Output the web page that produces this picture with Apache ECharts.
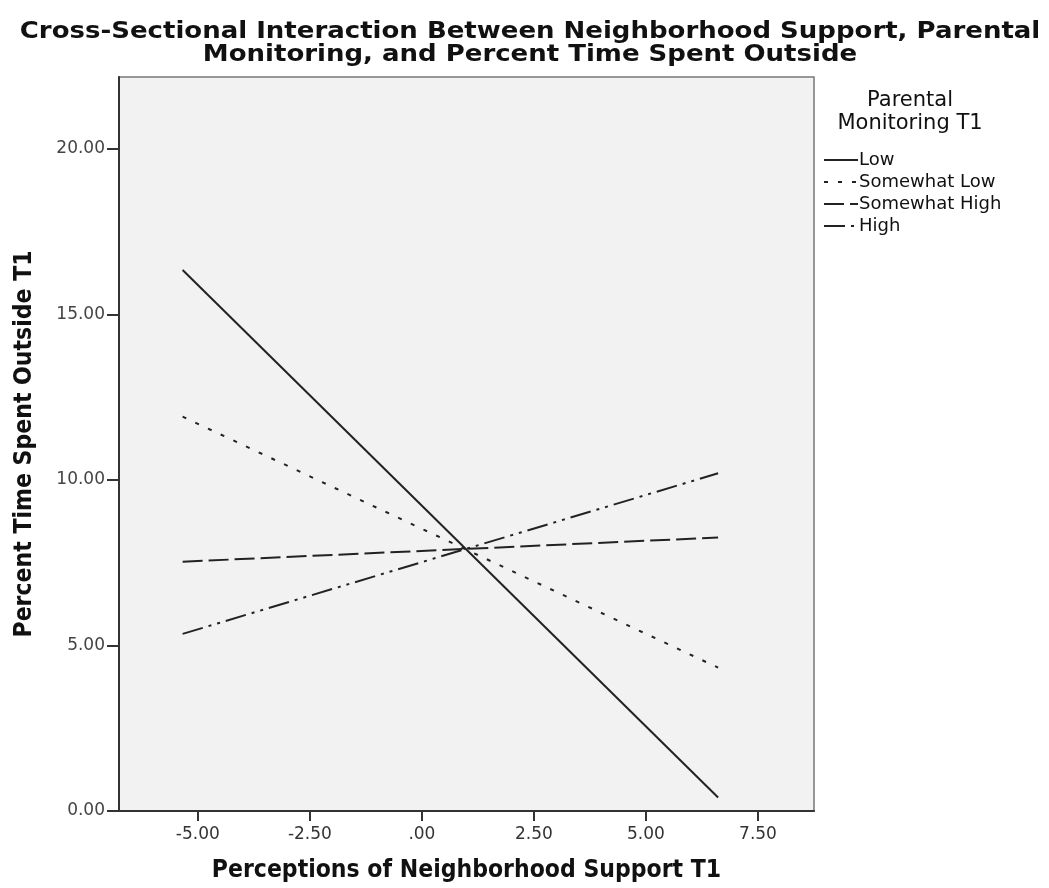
<!DOCTYPE html>
<html><head><meta charset="utf-8">
<script src="https://cdn.jsdelivr.net/npm/echarts@6/dist/echarts.min.js"></script>
<style>html,body{margin:0;padding:0;background:#fff}#c{width:1049px;height:888px}</style>
</head><body><div id="c"></div>
<script>
const xValues = [-5.34, 6.61];
const seriesNames = ['Low', 'Somewhat Low', 'Somewhat High', 'High'];
const lowValues = [16.34, 0.41];
const somewhatLowValues = [11.91, 4.33];
const somewhatHighValues = [7.53, 8.26];
const highValues = [5.35, 10.20];
const xTicks = [-5, -2.5, 0, 2.5, 5, 7.5];
const yTicks = [0, 5, 10, 15, 20];

const dashTypes = ['solid', [4, 10], [20, 6], [21, 6, 3, 6, 3, 6]];
const allValues = [lowValues, somewhatLowValues, somewhatHighValues, highValues];

const chart = echarts.init(document.getElementById('c'));
const fmtX = v => (Math.abs(v) < 1e-9 ? '.00' : v.toFixed(2));
const fmtY = v => v.toFixed(2);
chart.setOption({
  animation: false,
  backgroundColor: '#ffffff',
  legend: {
    orient: 'vertical', left: 818, top: 146,
    itemWidth: 34, itemHeight: 14, itemGap: 4,
    itemStyle: { opacity: 0 },
    textStyle: { fontFamily: 'DejaVu Sans', fontSize: 18, color: '#111', padding: [0, 0, 0, -4] },
    data: seriesNames
  },
  graphic: [{
    type: 'text', x: 530, y: 21, scaleX: 1.13,
    style: { text: 'Cross-Sectional Interaction Between Neighborhood Support, Parental\nMonitoring, and Percent Time Spent Outside', textAlign: 'center', fontFamily: 'DejaVu Sans', fontWeight: 'bold', fontSize: 23, lineHeight: 23, fill: '#111' }
  }, {
    type: 'text', x: 910, y: 89,
    style: { text: 'Parental\nMonitoring T1', textAlign: 'center', fontFamily: 'DejaVu Sans', fontSize: 21, lineHeight: 23, fill: '#111' }
  }],
  grid: { left: 119, right: 235, top: 77, bottom: 77, show: true, backgroundColor: '#f2f2f2', borderColor: '#777', borderWidth: 1.5 },
  xAxis: {
    type: 'value', min: -6.76, max: 8.75,
    name: 'Perceptions of Neighborhood Support T1', nameLocation: 'middle', nameGap: 47,
    nameTextStyle: { fontFamily: 'DejaVu Sans Condensed', fontWeight: 'bold', fontSize: 24.5, color: '#111' },
    axisLine: { show: true, onZero: false, lineStyle: { color: '#333', width: 2 } },
    axisTick: { show: true, length: 10, customValues: xTicks, lineStyle: { color: '#333', width: 2 } },
    axisLabel: { customValues: xTicks, formatter: fmtX, margin: 15, fontFamily: 'DejaVu Sans', fontSize: 17, color: '#333' },
    splitLine: { show: false }
  },
  yAxis: {
    type: 'value', min: 0, max: 22.17,
    name: 'Percent Time Spent Outside T1', nameLocation: 'middle', nameGap: 82,
    nameTextStyle: { fontFamily: 'DejaVu Sans Condensed', fontWeight: 'bold', fontSize: 24.5, color: '#111' },
    axisLine: { show: true, onZero: false, lineStyle: { color: '#333', width: 2 } },
    axisTick: { show: true, length: 12, customValues: yTicks, lineStyle: { color: '#333', width: 2 } },
    axisLabel: { customValues: yTicks, formatter: fmtY, margin: 14, fontFamily: 'DejaVu Sans', fontSize: 17, color: '#444' },
    splitLine: { show: false }
  },
  series: seriesNames.map((n, i) => ({
    name: n, type: 'line', symbol: 'none',
    data: xValues.map((x, j) => [x, allValues[i][j]]),
    lineStyle: { color: '#222', width: 2, type: dashTypes[i] },
    itemStyle: { color: '#222' }
  }))
});
</script></body></html>
